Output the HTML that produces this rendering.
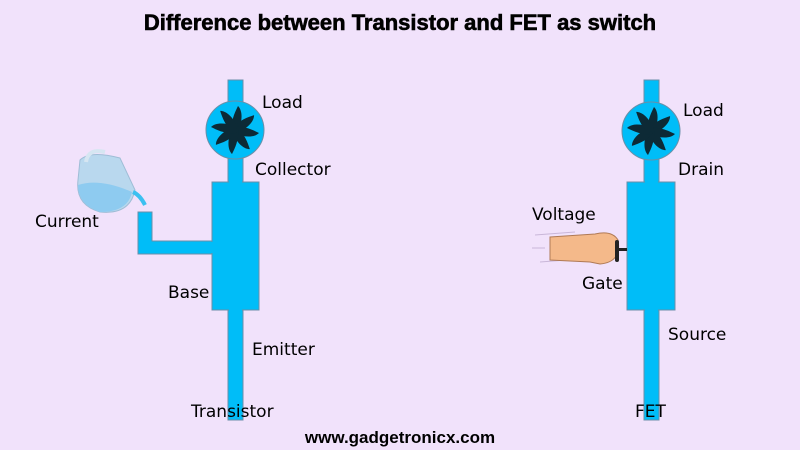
<!DOCTYPE html><html><head><style>body{margin:0;width:800px;height:450px;background:#f1e2fb;overflow:hidden}</style></head><body>
<svg width="800" height="450" xmlns="http://www.w3.org/2000/svg" style="position:absolute;left:0;top:0">
<rect width="800" height="450" fill="#f1e2fb"/>
<text x="400" y="30" text-anchor="middle" font-family="Liberation Sans" font-weight="bold" font-size="22" fill="#000" stroke="#000" stroke-width="0.6">Difference between Transistor and FET as switch</text>
<g fill="#00bdf8" stroke="#6a8fa8" stroke-width="1">
<rect x="228" y="80" width="15" height="340"/>
<rect x="212" y="182" width="47" height="128"/>
<path d="M138 212 V254 H212 V241 H152 V212 Z"/>
<circle cx="235" cy="130" r="29"/>
<rect x="644" y="80" width="15" height="340"/>
<rect x="627" y="182" width="48" height="128"/>
<circle cx="651" cy="131" r="29"/>
</g>
<g fill="#00bdf8"><rect x="229" y="175" width="13" height="10"/><rect x="229" y="305" width="13" height="10"/><rect x="645" y="175" width="13" height="10"/><rect x="645" y="305" width="13" height="10"/><rect x="150" y="242" width="65" height="11"/></g>
<defs><path id="b" d="M-3 0 C-4 -10 0 -18 3 -24 C7 -20 8 -12 4 0Z"/></defs>
<g fill="#0d2a36">
<g transform="translate(235,130)"><circle r="6"/><use href="#b"/><use href="#b" transform="rotate(45)"/><use href="#b" transform="rotate(90)"/><use href="#b" transform="rotate(135)"/><use href="#b" transform="rotate(180)"/><use href="#b" transform="rotate(225)"/><use href="#b" transform="rotate(270)"/><use href="#b" transform="rotate(315)"/></g>
<g transform="translate(651,131)"><circle r="6"/><use href="#b"/><use href="#b" transform="rotate(45)"/><use href="#b" transform="rotate(90)"/><use href="#b" transform="rotate(135)"/><use href="#b" transform="rotate(180)"/><use href="#b" transform="rotate(225)"/><use href="#b" transform="rotate(270)"/><use href="#b" transform="rotate(315)"/></g>
</g>
<!-- jug -->
<path d="M80 160 Q90 150 120 158 L135 190 Q130 215 100 212 Q75 205 78 180 Z" fill="#b9d8ee" stroke="#9fbdd6"/>
<path d="M78 185 Q100 178 132 192 Q128 212 100 212 Q78 205 78 185Z" fill="#8ecbf0"/>
<path d="M86 162 Q88 148 105 152" fill="none" stroke="#d6e6f2" stroke-width="4"/>
<path d="M133 192 Q140 195 145 205" stroke="#3cc0f0" stroke-width="4" fill="none"/>
<!-- hand -->
<g stroke="#c9b6d8" stroke-width="1"><line x1="535" y1="235" x2="575" y2="232"/><line x1="540" y1="262" x2="580" y2="259"/><line x1="532" y1="248" x2="545" y2="248"/></g>
<path d="M550 237 L595 234 Q612 230 618 240 Q622 262 600 264 L590 262 L550 260 Z" fill="#f4b98a" stroke="#b07a55"/>
<rect x="615" y="248" width="12" height="3" fill="#222"/><rect x="615" y="240" width="4" height="22" rx="2" fill="#222"/>
<g font-family="DejaVu Sans, Liberation Sans, sans-serif" font-size="17" fill="#000">
<text x="262" y="108">Load</text><text x="255" y="175">Collector</text><text x="35" y="227">Current</text><text x="168" y="298">Base</text><text x="252" y="355">Emitter</text><text x="191" y="417">Transistor</text>
<text x="683" y="116">Load</text><text x="678" y="175">Drain</text><text x="532" y="220">Voltage</text><text x="582" y="289">Gate</text><text x="668" y="340">Source</text><text x="635" y="417">FET</text>
</g>
<text x="400" y="443" text-anchor="middle" font-family="Liberation Sans" font-weight="bold" font-size="17">www.gadgetronicx.com</text>
</svg></body></html>
